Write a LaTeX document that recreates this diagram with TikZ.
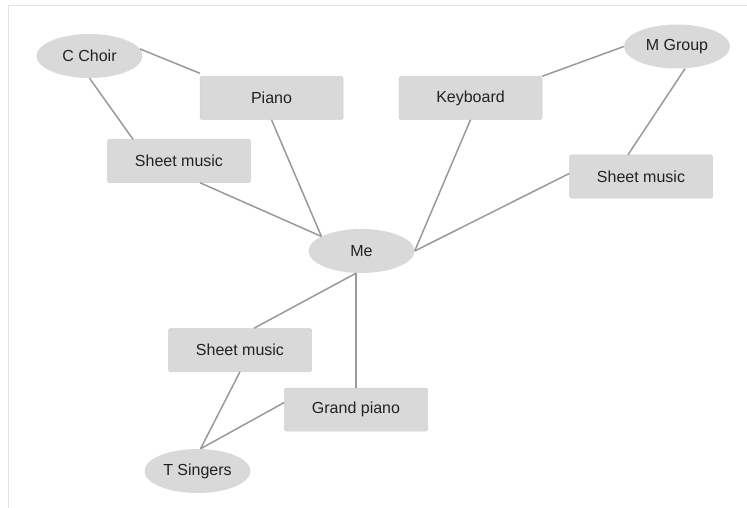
\documentclass[tikz,border=0pt]{standalone}
\usepackage{fontspec}
\setmainfont{Liberation Sans}
\usetikzlibrary{shapes.geometric}
\definecolor{nodefill}{HTML}{D9D9D9}
\definecolor{nodeline}{HTML}{CFCFCF}
\definecolor{edgecol}{HTML}{999999}
\definecolor{framecol}{HTML}{E2E2E2}
\definecolor{txtcol}{HTML}{222222}
\begin{document}
\begin{tikzpicture}[x=1pt,y=-1pt,
  box/.style={rectangle, rounded corners=1.5pt, fill=nodefill, draw=nodeline, line width=0.5pt,
    minimum width=143pt, minimum height=43pt, inner sep=0pt, text=txtcol,
    font=\fontsize{16}{19}\selectfont},
  oval/.style={ellipse, fill=nodefill, draw=none,
    minimum width=106pt, minimum height=44pt, inner sep=0pt, text=txtcol,
    font=\fontsize{16}{19}\selectfont},
  edge/.style={draw=edgecol, line width=1.5pt},
  frame/.style={draw=framecol, line width=1pt}]
\useasboundingbox (0,0) rectangle (747,508);
\coordinate (ftl) at (8,6);
\coordinate (ftr) at (747,6);
\coordinate (fbl) at (8,508);
\draw[frame] (ftr) -- (ftl) -- (fbl);

\node[oval] (cchoir) at (89.5,56) {C Choir};
\node[box] (piano) at (271.5,98) {Piano};
\node[box] (sm1) at (179,161) {Sheet music};
\node[box] (kb) at (470.5,98) {Keyboard};
\node[oval] (mg) at (677,46.5) {M Group};
\node[box] (sm2) at (641,176.5) {Sheet music};
\node[oval] (me) at (361.5,251) {Me};
\node[box] (sm3) at (240,350) {Sheet music};
\node[box] (gp) at (356,409.5) {Grand piano};
\node[oval] (ts) at (197.5,471) {T Singers};

\coordinate (mebot) at (gp.north |- me.south);

\draw[edge] (cchoir.8) -- ([yshift=3pt]piano.north west);
\draw[edge] (cchoir.south) -- ([xshift=-46pt]sm1.north);
\draw[edge] ([xshift=21pt]sm1.south) -- (me.160);
\draw[edge] (piano.south) -- (me.160);
\draw[edge] (kb.south) -- (me.east);
\draw[edge] ([yshift=3pt]sm2.west) -- (me.east);
\draw[edge] (kb.north east) -- (mg.west);
\draw[edge] ([xshift=8pt]mg.south) -- ([xshift=-13pt]sm2.north);
\draw[edge] (mebot) -- ([xshift=14pt]sm3.north);
\draw[edge] (mebot) -- (gp.north);
\draw[edge] (sm3.south) -- ([xshift=3pt]ts.north);
\draw[edge] ([yshift=7pt]gp.west) -- ([xshift=3pt]ts.north);
\end{tikzpicture}
\end{document}
